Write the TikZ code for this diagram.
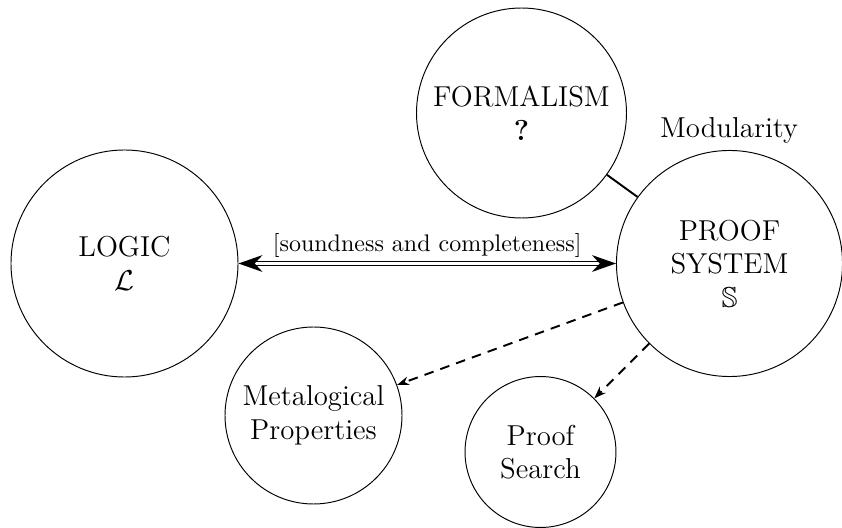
\documentclass[tikz,border=0pt]{standalone}
\usepackage{amssymb}
\usetikzlibrary{arrows.meta}
\begin{document}
\begin{tikzpicture}[x=0.41667pt, y=-0.41667pt,
  topic/.style={draw, circle, inner sep=0pt, align=center, font=\large, line width=0.4pt},
  link/.style={thick},
  dep/.style={thick, dash pattern=on 4pt off 3pt, -{Stealth[length=5pt,width=3.6pt]}},
  equiv/.style={line width=0.65pt, double, double distance=1pt,
    {Stealth[length=10pt,width=7pt]}-{Stealth[length=10pt,width=7pt]}}
]
\useasboundingbox (0,0) rectangle (842,528);

% the five topics
\node[topic, minimum size=94.6pt] (logic) at (124.5,263.5) {LOGIC\\$\mathcal{L}$};
\node[topic, minimum size=94.2pt] (ps) at (729.5,263.5) {PROOF\\SYSTEM\\$\mathbb{S}$};
\node[topic, minimum size=87.5pt] (form) at (521.5,113) {FORMALISM\\\textbf{?}};
\node[topic, minimum size=73.75pt] (meta) at (313.5,415.5) {Metalogical\\Properties};
\node[topic, minimum size=62.9pt] (search) at (540.5,452) {Proof\\Search};

% label over the proof system
\node[anchor=base, font=\large, inner sep=0pt] (mod) at (729,138) {Modularity};

% connections
\draw[link] (form) -- (ps);
\draw[equiv] (logic) -- (ps)
  node[midway, anchor=base, inner sep=0pt, yshift=4.8pt] (sc) {[soundness and completeness]};
\draw[dep] (ps) -- (meta);
\draw[dep] (ps) -- (search);
\end{tikzpicture}
\end{document}
